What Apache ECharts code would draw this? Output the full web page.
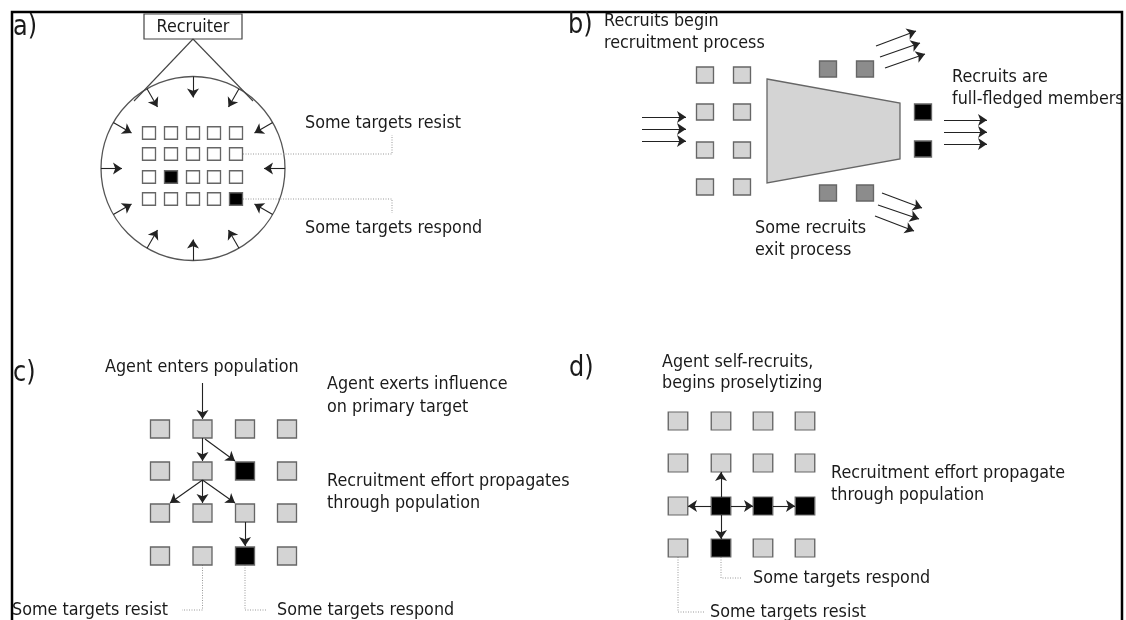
<!DOCTYPE html>
<html>
<head>
  <meta charset="UTF-8">
  <title>Recruitment diagram</title>
  <script src="https://cdn.jsdelivr.net/npm/echarts@6/dist/echarts.min.js"></script>
  <style>
    html, body { margin: 0; padding: 0; background: #fff; }
    #main { width: 1126px; height: 620px; }
  </style>
</head>
<body>
  <div id="main"></div>
  <script>
    // panel a: grid of targets inside the recruiter's circle
    const aCols = [149, 171, 193, 214, 236]
    const aRows = [133, 154, 177, 199]
    const aBlack = [[1, 2], [4, 3]]
    const aCircle = [193, 168.5, 92]
    const aArrowAngles = [90, 60, 30, 0, -30, -60, -90, -120, -150, 180, 150, 120]
    const aBox = [144, 14, 242, 39]
    const aTangents = [[[193, 39], [134, 101]], [[193, 39], [253, 101]]]
    const aLeaders = [
      [[243, 154], [392, 154], [392, 135]],
      [[243, 199], [392, 199], [392, 213]]
    ]

    // panel b: funnel
    const bLightCols = [705, 742]
    const bLightRows = [75, 112, 150, 187]
    const bDark = [[828, 69], [865, 69], [828, 193], [865, 193]]
    const bBlack = [[923, 112], [923, 149]]
    const bFunnel = [[767, 79], [900, 103], [900, 159], [767, 183]]
    const bArrows = [
      [[642, 117], [686, 117]], [[642, 129], [686, 129]], [[642, 141], [686, 141]],
      [[944, 120], [987, 120]], [[944, 132], [987, 132]], [[944, 144], [987, 144]],
      [[876, 46], [916, 31]], [[880, 57], [920, 43]], [[885, 68], [925, 54]],
      [[882, 193], [922, 208]], [[878, 205], [919, 219]], [[875, 216], [914, 231]]
    ]

    // panel c: agent enters population
    const cCols = [160, 202.5, 245, 287]
    const cRows = [429, 471, 513, 556]
    const cBlack = [[2, 1], [2, 3]]
    const cArrows = [
      [[202.5, 383], [202.5, 419]],
      [[202.5, 438], [202.5, 461]],
      [[205, 439], [235, 461]],
      [[202.5, 480], [170, 503]],
      [[202.5, 480], [202.5, 503]],
      [[202.5, 480], [235, 503]],
      [[245, 522], [245, 546]]
    ]
    const cLeaders = [
      [[202.5, 565], [202.5, 610], [182, 610]],
      [[245, 565], [245, 610], [266, 610]]
    ]

    // panel d: agent self-recruits
    const dCols = [678, 721, 763, 805]
    const dRows = [421, 463, 506, 548]
    const dBlack = [[1, 2], [2, 2], [3, 2], [1, 3]]
    const dArrows = [
      [[711, 506], [688, 506]],
      [[721, 497], [721, 472]],
      [[721, 515], [721, 539]],
      [[731, 506], [753, 506]],
      [[773, 506], [795, 506]]
    ]
    const dLeaders = [
      [[721, 557], [721, 578], [741, 578]],
      [[678, 557], [678, 612], [705, 612]]
    ]

    const panelLabels = [[13, 28, 'a)'], [568, 26, 'b)'], [13, 374, 'c)'], [569, 369, 'd)']]
    const texts = [
      [305, 123, 'Some targets resist'],
      [305, 228, 'Some targets respond'],
      [604, 21, 'Recruits begin'],
      [604, 43, 'recruitment process'],
      [952, 77, 'Recruits are'],
      [952, 99, 'full-fledged members'],
      [755, 228, 'Some recruits'],
      [755, 250, 'exit process'],
      [105, 367, 'Agent enters population'],
      [327, 384, 'Agent exerts influence'],
      [327, 407, 'on primary target'],
      [327, 481, 'Recruitment effort propagates'],
      [327, 503, 'through population'],
      [12, 610, 'Some targets resist'],
      [277, 610, 'Some targets respond'],
      [662, 362, 'Agent self-recruits,'],
      [662, 383, 'begins proselytizing'],
      [831, 473, 'Recruitment effort propagate'],
      [831, 495, 'through population'],
      [753, 578, 'Some targets respond'],
      [710, 612, 'Some targets resist']
    ]
    const frame = [[[12, 620], [12, 12], [1122, 12], [1122, 620]]]

    const FONT = 'DejaVu Sans'
    const allTexts = texts.concat(panelLabels)

    function gridCells(cols, rows, black, fill) {
      const out = []
      rows.forEach((y, r) => {
        cols.forEach((x, c) => {
          const isBlack = black.some(b => b[0] === c && b[1] === r)
          out.push({ value: [x, y], itemStyle: { color: isBlack ? '#000' : fill } })
        })
      })
      return out
    }

    function squares(data, size) {
      return {
        type: 'scatter',
        symbol: 'rect',
        symbolSize: size,
        data: data,
        itemStyle: { borderColor: '#666', borderWidth: 1.3, opacity: 1 },
        z: 5
      }
    }

    function arrowLines(list) {
      return {
        type: 'lines',
        coordinateSystem: 'cartesian2d',
        symbol: ['none', 'arrow'],
        symbolSize: 9,
        lineStyle: { color: '#222', width: 1.1, opacity: 1 },
        data: list.map(l => ({ coords: l })),
        z: 6
      }
    }

    function dotted(list) {
      return {
        type: 'lines',
        coordinateSystem: 'cartesian2d',
        polyline: true,
        symbol: 'none',
        lineStyle: { color: '#999', width: 1, type: [1, 1.5], opacity: 1 },
        data: list.map(l => ({ coords: l })),
        z: 4
      }
    }

    const circleArrows = aArrowAngles.map(a => {
      const rad = a * Math.PI / 180
      const [cx, cy, r] = aCircle
      return [[cx + r * Math.cos(rad), cy - r * Math.sin(rad)],
              [cx + (r - 21) * Math.cos(rad), cy - (r - 21) * Math.sin(rad)]]
    })

    const myChart = echarts.init(document.getElementById('main'))
    const option = {
      animation: false,
      backgroundColor: '#fff',
      grid: { left: 0, right: 0, top: 0, bottom: 0 },
      xAxis: { type: 'value', min: 0, max: 1126, show: false },
      yAxis: { type: 'value', min: 0, max: 620, inverse: true, show: false },
      series: [
        // frame
        {
          type: 'lines',
          coordinateSystem: 'cartesian2d',
          polyline: true,
          symbol: 'none',
          lineStyle: { color: '#000', width: 2.5, opacity: 1 },
          data: frame.map(l => ({ coords: l }))
        },
        // circle, recruiter box, funnel
        {
          type: 'custom',
          data: [0],
          z: 3,
          renderItem: function (params, api) {
            const c = api.coord([aCircle[0], aCircle[1]])
            const r = api.size([aCircle[2], 0])[0]
            const p1 = api.coord([aBox[0], aBox[1]])
            const p2 = api.coord([aBox[2], aBox[3]])
            const mx = (p1[0] + p2[0]) / 2
            const my = (p1[1] + p2[1]) / 2 + 1
            return {
              type: 'group',
              children: [
                { type: 'circle', shape: { cx: c[0], cy: c[1], r: r },
                  style: { fill: 'none', stroke: '#555', lineWidth: 1.3 } },
                { type: 'rect', shape: { x: p1[0], y: p1[1], width: p2[0] - p1[0], height: p2[1] - p1[1] },
                  style: { fill: '#fff', stroke: '#444', lineWidth: 1.2 } },
                { type: 'text', scaleY: 1.15, originX: mx, originY: my,
                  style: { x: mx, y: my,
                  text: 'Recruiter', font: '16px "' + FONT + '"', fill: '#1a1a1a',
                  align: 'center', verticalAlign: 'middle' } },
                { type: 'polygon', shape: { points: bFunnel.map(p => api.coord(p)) },
                  style: { fill: '#d4d4d4', stroke: '#666', lineWidth: 1.3 } }
              ]
            }
          }
        },
        // tangent lines from recruiter
        {
          type: 'lines',
          coordinateSystem: 'cartesian2d',
          symbol: 'none',
          lineStyle: { color: '#444', width: 1.1, opacity: 1 },
          data: aTangents.map(l => ({ coords: l })),
          z: 3
        },
        squares(gridCells(aCols, aRows, aBlack, '#fff'), [13, 12.5]),
        squares(gridCells(bLightCols, bLightRows, [], '#d4d4d4'), [17, 16]),
        squares(bDark.map(p => ({ value: p, itemStyle: { color: '#8c8c8c' } })), [17, 16]),
        squares(bBlack.map(p => ({ value: p, itemStyle: { color: '#000' } })), [17, 16]),
        squares(gridCells(cCols, cRows, cBlack, '#d4d4d4'), [19, 18]),
        squares(gridCells(dCols, dRows, dBlack, '#d4d4d4'), [19.5, 18]),
        arrowLines(circleArrows),
        arrowLines(bArrows),
        arrowLines(cArrows),
        arrowLines(dArrows),
        dotted(aLeaders),
        dotted(cLeaders),
        dotted(dLeaders),
        // text
        {
          type: 'custom',
          data: allTexts.map(t => ({ value: [t[0], t[1]], name: t[2] })),
          z: 10,
          renderItem: function (params, api) {
            const item = allTexts[params.dataIndex]
            const big = params.dataIndex >= texts.length
            const p = api.coord([api.value(0), api.value(1)])
            return {
              type: 'text',
              scaleY: 1.15,
              originX: p[0],
              originY: p[1],
              style: {
                x: p[0], y: p[1], text: item[2],
                font: (big ? '24px' : '16px') + ' "' + FONT + '"',
                fill: '#1a1a1a', align: 'left', verticalAlign: 'middle'
              }
            }
          }
        }
      ]
    }
    myChart.setOption(option)
  </script>
</body>
</html>
